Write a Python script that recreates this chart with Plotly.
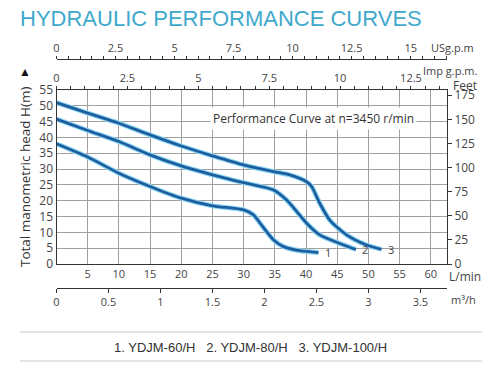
import plotly.graph_objects as go

# ---- data (flow in L/min, head in m) ----
flow_1 = [0, 5, 10, 15, 20, 25, 30, 31.6, 32.6, 34.8, 36.4, 39, 42]
head_1 = [38, 33.8, 28.7, 24.5, 20.8, 18.4, 17.1, 15.5, 13, 7.6, 5.5, 4.2, 3.6]

flow_2 = [0, 5, 10, 15, 20, 25, 30, 34.8, 36.9, 40.1, 42.2, 45.4, 48]
head_2 = [45.8, 42.2, 38.7, 34.5, 31, 28.2, 25.7, 23.4, 20.2, 12.9, 9.2, 6.5, 4.6]

flow_3 = [0, 5, 10, 15, 20, 25, 30, 34.8, 37.4, 40.1, 40.9, 42.2, 43.8, 46.5, 49.7, 52.1]
head_3 = [51, 47.7, 44.5, 40.8, 37.3, 34.2, 31.3, 29.2, 28.2, 26, 24.5, 19.2, 13.9, 9.2, 6, 4.6]

curve_labels = ["1", "2", "3"]
legend_text = "1. YDJM-60/H   2. YDJM-80/H   3. YDJM-100/H"

lmin_ticks = [5, 10, 15, 20, 25, 30, 35, 40, 45, 50, 55, 60]
head_ticks = [0, 5, 10, 15, 20, 25, 30, 35, 40, 45, 50, 55]

X_MAX = 62.6
Y_MAX = 55
W, H = 499, 365
OFF = 8  # default page body margin
FW, FH = W - OFF, H - OFF

def px_x(p):
    return (p - OFF) / FW

def px_y(p):
    return 1 - (p - OFF) / FH

dom_x = [px_x(56.5), px_x(447)]
dom_y = [px_y(264), px_y(90)]

TICKFONT = dict(family="Open Sans, Noto Sans, sans-serif", size=11, color="#444")
DARK = "#1d5f9e"
GLOW = "#8fd6f4"

fig = go.Figure()
for fl, hd in [(flow_1, head_1), (flow_2, head_2), (flow_3, head_3)]:
    fig.add_trace(go.Scatter(x=fl, y=hd, mode="lines", line=dict(color=GLOW, width=5, shape="spline", smoothing=0.7),
                             hoverinfo="skip", showlegend=False))
    fig.add_trace(go.Scatter(x=fl, y=hd, mode="lines", line=dict(color=DARK, width=2.8, shape="spline", smoothing=0.7),
                             showlegend=False))

# curve number labels
for fl, hd, lab in zip([flow_1, flow_2, flow_3], [head_1, head_2, head_3], curve_labels):
    fig.add_annotation(x=fl[-1], y=hd[-1], text=lab, showarrow=False, xanchor="left", xshift=4,
                       font=dict(family="Open Sans, sans-serif", size=11, color="#444"))

axis_line = dict(showline=True, linecolor="#333", linewidth=1, automargin=False)

fig.update_layout(
    width=FW, height=FH,
    margin=dict(l=0, r=0, t=0, b=0, autoexpand=False),
    paper_bgcolor="white", plot_bgcolor="white",
    showlegend=False,
    xaxis=dict(domain=dom_x, range=[0, X_MAX], tickvals=lmin_ticks, showgrid=True, gridcolor="#a0a0a0",
               gridwidth=1, zeroline=False, ticks="", tickfont=TICKFONT, anchor="y", **axis_line),
    yaxis=dict(domain=dom_y, range=[0, Y_MAX], tickvals=head_ticks, showgrid=True, gridcolor="#a0a0a0",
               zeroline=False, ticks="", tickfont=dict(family="Open Sans, sans-serif", size=12, color="#444"),
               anchor="x", **axis_line),
    yaxis2=dict(overlaying="y", side="right", anchor="x", range=[0, Y_MAX / 0.3048], tick0=0, dtick=25,
                showgrid=False, zeroline=False, ticks="outside", ticklen=4, tickcolor="#333",
                tickfont=dict(family="Open Sans, sans-serif", size=12, color="#444"), **axis_line),
    xaxis2=dict(overlaying="x", side="top", anchor="y", range=[0, X_MAX / 4.54609], tick0=0, dtick=2.5,
                showgrid=False, zeroline=False, ticks="outside", ticklen=3, tickcolor="#333",
                minor=dict(dtick=0.5, ticks="outside", ticklen=3, tickcolor="#333"),
                tickfont=TICKFONT, **axis_line),
    xaxis3=dict(overlaying="x", side="top", anchor="free", position=px_y(59), range=[0, X_MAX / 3.78541],
                tick0=0, dtick=2.5, showgrid=False, zeroline=False, ticks="outside", ticklen=3, tickcolor="#333",
                minor=dict(dtick=0.5, ticks="outside", ticklen=3, tickcolor="#333"),
                tickfont=TICKFONT, **axis_line),
    xaxis4=dict(overlaying="x", side="bottom", anchor="free", position=px_y(288), range=[0, X_MAX / 16.6667],
                tick0=0, dtick=0.5, showgrid=False, zeroline=False, ticks="outside", ticklen=4, tickcolor="#333",
                tickfont=TICKFONT, **axis_line),
)

# dummy traces to activate extra axes
fig.add_trace(go.Scatter(x=[0], y=[0], xaxis="x2", yaxis="y", mode="markers", marker=dict(opacity=0), hoverinfo="skip"))
fig.add_trace(go.Scatter(x=[0], y=[0], xaxis="x3", yaxis="y", mode="markers", marker=dict(opacity=0), hoverinfo="skip"))
fig.add_trace(go.Scatter(x=[0], y=[0], xaxis="x4", yaxis="y", mode="markers", marker=dict(opacity=0), hoverinfo="skip"))
fig.add_trace(go.Scatter(x=[0], y=[0], xaxis="x", yaxis="y2", mode="markers", marker=dict(opacity=0), hoverinfo="skip"))

def paper_text(x, y, text, size=11, color="#444", xanchor="center", family="Open Sans, sans-serif", **kw):
    fig.add_annotation(x=px_x(x), y=px_y(y), xref="paper", yref="paper", text=text, showarrow=False,
                       xanchor=xanchor, yanchor="middle", font=dict(family=family, size=size, color=color), **kw)

# title
paper_text(18, 18, "HYDRAULIC PERFORMANCE CURVES", size=22, color="#3fa9cc", xanchor="left",
           family="Liberation Sans, Arial, sans-serif")

# unit labels
paper_text(452, 47, "USg.p.m", size=11)
paper_text(450, 70, "Imp g.p.m.", size=11)
paper_text(465, 85, "Feet", size=12)
paper_text(465, 276, "L/min", size=12)
paper_text(463, 299, "m³/h", size=11)

# y title and arrow
paper_text(25, 177, "Total manometric head H(m)", size=13.5, color="#333", textangle=-90)
paper_text(25, 71, "▲", size=12, color="#111")

# performance curve note
fig.add_annotation(x=px_x(313), y=px_y(107), xref="paper", yref="paper",
                   text="Performance Curve at n=3450 r/min", showarrow=False,
                   bgcolor="white", borderpad=2,
                   font=dict(family="Open Sans, sans-serif", size=12, color="#333"))

# legend block
paper_text(250, 347, legend_text, size=13, color="#333", family="Liberation Sans, Arial, sans-serif")
for yy in [332, 361]:
    fig.add_shape(type="line", xref="paper", yref="paper", x0=px_x(20), x1=px_x(482), y0=px_y(yy), y1=px_y(yy),
                  line=dict(color="#c8c8c8", width=1))

fig.write_html("out.html")
